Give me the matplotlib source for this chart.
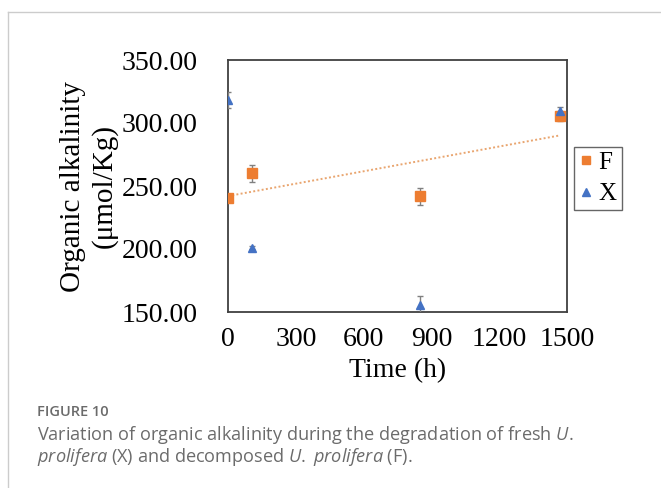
import numpy as np
import matplotlib
matplotlib.use("Agg")
import matplotlib.pyplot as plt
from matplotlib.lines import Line2D

# Sampling times (h) and organic alkalinity (umol/Kg)
time_h = [0, 108, 848, 1470]
f_values = [240.5, 260.0, 241.8, 305.3]
f_err = [2.0, 6.5, 7.0, 4.0]
x_values = [318.0, 201.0, 155.6, 309.5]
x_err = [6.3, 1.0, 7.0, 3.0]

x_ticks = [0, 300, 600, 900, 1200, 1500]
y_ticks = [150, 200, 250, 300, 350]

orange = "#ED7D31"
blue = "#4472C4"
serif = ["Liberation Serif", "DejaVu Serif"]

plt.rcParams["mathtext.fontset"] = "custom"
plt.rcParams["mathtext.it"] = "Open Sans:italic"
plt.rcParams["mathtext.rm"] = "Open Sans"

fig = plt.figure(figsize=(6.61, 4.88), dpi=100)
W, H = 661, 488

# card outline
fig.add_artist(Line2D([8 / W, 1], [1 - 12 / H, 1 - 12 / H], color="#cccccc", lw=1.0))
fig.add_artist(Line2D([8 / W, 8 / W], [0, 1 - 12 / H], color="#cccccc", lw=1.0))

ax = fig.add_axes([228 / W, 1 - 312 / H, (567 - 228) / W, (312 - 60) / H])

ax.errorbar(time_h, f_values, yerr=f_err, fmt="s", color=orange, ms=7,
            ecolor="#808080", elinewidth=1, capsize=2, capthick=1, zorder=3)
ax.errorbar(time_h, x_values, yerr=x_err, fmt="^", color=blue, ms=6,
            ecolor="#808080", elinewidth=1, capsize=2, capthick=1, zorder=3)

# linear trend of F
coef = np.polyfit(time_h, f_values, 1)
tt = np.array([time_h[0], time_h[-1]])
ax.plot(tt, np.polyval(coef, tt), linestyle=(0, (1, 1.2)), color="#E9A56F", lw=1.4, zorder=2)

ax.set_xlim(0, 1500)
ax.set_ylim(150, 350)
ax.set_xticks(x_ticks)
ax.set_yticks(y_ticks)
ax.set_yticklabels([f"{v:.2f}" for v in y_ticks])
ax.tick_params(length=0, labelsize=20, pad=0)
ax.tick_params(axis="y", pad=22)
ax.tick_params(axis="x", pad=11)
for lab in ax.get_xticklabels() + ax.get_yticklabels():
    lab.set_fontfamily(serif)
for s in ax.spines.values():
    s.set_color("#404040")
    s.set_linewidth(1.3)

ax.set_xlabel("Time (h)", fontsize=20, family=serif, labelpad=4)
ax.set_ylabel("Organic alkalinity\n(μmol/Kg)", fontsize=21, family=serif,
              labelpad=3, linespacing=1.2)

handles = [
    Line2D([], [], marker="s", color=orange, ls="none", ms=6, label="F"),
    Line2D([], [], marker="^", color=blue, ls="none", ms=5.5, label="X"),
]
leg = ax.legend(handles=handles, loc="center left", bbox_to_anchor=(1.005, 0.53),
                frameon=True, fancybox=False, edgecolor="#404040",
                prop={"family": serif, "size": 18},
                handlelength=0.6, handletextpad=0.2, borderpad=0.2, labelspacing=0.35,
                borderaxespad=0.2)
leg.get_frame().set_linewidth(1.0)

cap_color = "#6b6b6b"
fig.text(37 / W, 1 - 412 / H, "FIGURE 10", fontsize=10.5, color=cap_color,
         family="Open Sans", weight="semibold", va="center")
fig.text(37 / W, 1 - 435 / H,
         "Variation of organic alkalinity during the degradation of fresh $\\it{U.}$",
         fontsize=13.05, color=cap_color, family="Open Sans", va="center")
fig.text(37 / W, 1 - 457 / H,
         "$\\it{prolifera}$ (X) and decomposed $\\it{U.}$ $\\it{prolifera}$ (F).",
         fontsize=13.05, color=cap_color, family="Open Sans", va="center")

fig.savefig("out.png", dpi=100)
